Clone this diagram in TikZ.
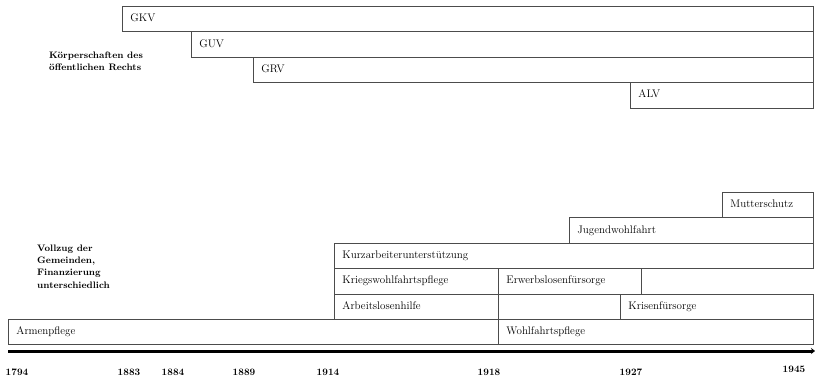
\documentclass[tikz,border=0pt]{standalone}
\usetikzlibrary{arrows.meta}
\begin{document}
\begin{tikzpicture}[x=1pt,y=-1pt,
  bar/.style={draw=black!70, line width=0.9pt, anchor=north west,
    minimum height=25.4pt, inner xsep=8pt, inner ysep=0pt, align=left,
    text height=7pt, text depth=2pt, font=\fontsize{11}{13}\selectfont},
  note/.style={anchor=north west, inner sep=0pt, align=left,
    font=\fontsize{9.4}{12.3}\selectfont\bfseries},
  year/.style={inner sep=0pt, font=\fontsize{9.8}{11}\selectfont\bfseries},
  axis/.style={line width=3pt, -{Stealth[length=4pt,width=6pt]}}]
\useasboundingbox (0,0) rectangle (815,377);

% statutory insurance branches (public-law bodies)
\node[bar, text width=675pt] (gkv) at (122,6)     {GKV};
\node[bar, text width=606pt] (guv) at (191,31.4)  {GUV};
\node[bar, text width=544pt] (grv) at (253,56.8)  {GRV};
\node[bar, text width=167pt] (alv) at (630,82.2)  {ALV};
\node[note] (koerp) at (49,51.5) {Körperschaften des\\öffentlichen Rechts};

% municipal welfare branches
\node[bar, text width=75pt]  (mutter) at (722,192)   {Mutterschutz};
\node[bar, text width=228pt] (jugend) at (569,217.4) {Jugendwohlfahrt};
\node[bar, text width=463pt] (kurz)   at (334,242.8) {Kurzarbeiterunterstützung};
\node[bar, text width=148pt] (krieg)  at (334,268.2) {Kriegswohlfahrtspflege};
\node[bar, text width=127pt] (erwerb) at (498,268.2) {Erwerbslosenfürsorge};
\node[bar, text width=148pt] (arbeit) at (334,293.6) {Arbeitslosenhilfe};
\node[bar, text width=177pt] (krise)  at (620,293.6) {Krisenfürsorge};
\node[bar, text width=474pt] (armen)  at (8,319)     {Armenpflege};
\node[bar, text width=299pt] (wohl)   at (498,319)   {Wohlfahrtspflege};
\node[note] (vollzug) at (37,244.5) {Vollzug der\\Gemeinden,\\Finanzierung\\unterschiedlich};

% time axis
\coordinate (t0) at (8,351);
\coordinate (t1) at (815,351);
\draw[axis] (t0) -- (t1);

\node[year] (y1794) at (17,372)  {1794};
\node[year] (y1883) at (129,372) {1883};
\node[year] (y1884) at (173,372) {1884};
\node[year] (y1889) at (244,372) {1889};
\node[year] (y1914) at (328,372) {1914};
\node[year] (y1918) at (489,372) {1918};
\node[year] (y1927) at (631,372) {1927};
\node[year] (y1945) at (794,369) {1945};
\end{tikzpicture}
\end{document}
